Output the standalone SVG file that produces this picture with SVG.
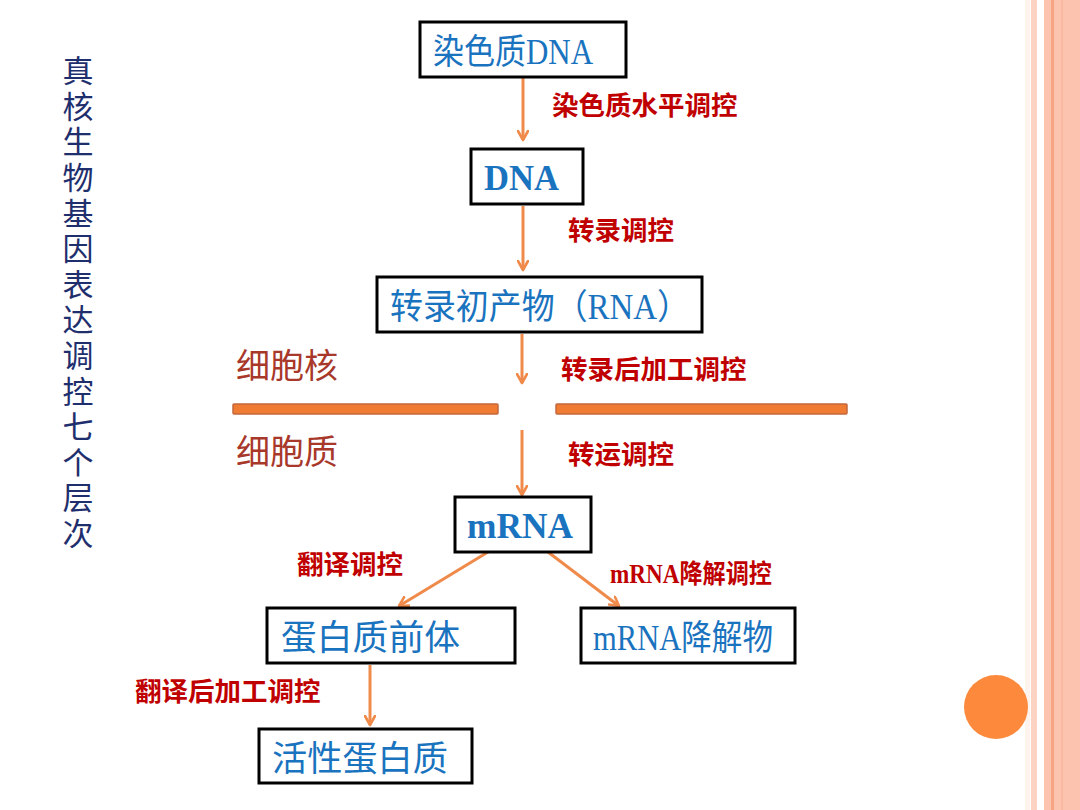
<svg xmlns="http://www.w3.org/2000/svg" width="1080" height="810" viewBox="0 0 1080 810">
<defs>
<marker id="ah" viewBox="0 0 12 12" refX="10" refY="6" markerWidth="12" markerHeight="12" markerUnits="userSpaceOnUse" orient="auto">
<path d="M1,1 L10,6 L1,11" fill="none" stroke="#f08a4b" stroke-width="2.6" stroke-linecap="round" stroke-linejoin="round"/>
</marker>
<style>
.box{fill:#ffffff;stroke:#000000;stroke-width:3}
.bt{font-family:"Liberation Serif","Noto Sans CJK SC",serif;font-size:35px;fill:#1a73be}
.bb{font-family:"Liberation Serif","Noto Sans CJK SC",serif;font-size:35px;font-weight:bold;fill:#1a73be}
.lab{font-family:"Liberation Serif","Noto Sans CJK SC",sans-serif;font-size:26.5px;font-weight:bold;fill:#c00000}
.reg{font-family:"Noto Sans CJK SC",sans-serif;font-size:34px;fill:#a8382a}
.ttl{font-family:"Noto Sans CJK SC",sans-serif;font-size:31px;fill:#1f2f6e;writing-mode:vertical-rl;letter-spacing:4.6px}
.con{stroke:#f08a4b;stroke-width:3;fill:none;marker-end:url(#ah)}
.bar{fill:#f07c33;stroke:#c4683e;stroke-width:1.5}
</style>
</defs>
<rect width="1080" height="810" fill="#ffffff"/>
<g id="border">
<rect x="1025" y="0" width="5" height="810" fill="#fff3ee"/>
<rect x="1031" y="0" width="6" height="810" fill="#fcd3c2"/>
<rect x="1044" y="0" width="36" height="810" fill="#fcc4ae"/>
<rect x="1051" y="0" width="3" height="810" fill="#f5a582"/>
<rect x="1061" y="0" width="2" height="810" fill="#f9b9a0"/>
</g>
<circle id="dot" cx="996" cy="707" r="32" fill="#fd8a3c"/>
<g id="title">
<text class="ttl" x="78" y="55">真核生物基因表达调控七个层次</text>
</g>
<g id="region-labels">
<text class="reg" x="236" y="378">细胞核</text>
<text class="reg" x="236" y="464">细胞质</text>
<rect class="bar" x="233" y="404" width="265" height="10" rx="1"/>
<rect class="bar" x="556" y="404" width="291" height="10" rx="1"/>
</g>
<g id="connectors">
<line class="con" x1="523" y1="78" x2="523" y2="140"/>
<line class="con" x1="523" y1="206" x2="523" y2="270"/>
<line class="con" x1="522" y1="334" x2="522" y2="383"/>
<line class="con" x1="522" y1="430" x2="522" y2="495"/>
<line class="con" x1="488" y1="552" x2="399" y2="606"/>
<line class="con" x1="548" y1="552" x2="619" y2="606"/>
<line class="con" x1="370" y1="665" x2="370" y2="725"/>
</g>
<g id="edge-labels">
<text class="lab" x="552" y="115">染色质水平调控</text>
<text class="lab" x="568" y="240">转录调控</text>
<text class="lab" x="561" y="379">转录后加工调控</text>
<text class="lab" x="568" y="464">转运调控</text>
<text class="lab" x="297" y="574">翻译调控</text>
<text class="lab" x="610" y="583" textLength="162" lengthAdjust="spacingAndGlyphs">mRNA降解调控</text>
<text class="lab" x="135" y="701">翻译后加工调控</text>
</g>
<g id="node-chromatin">
<rect class="box" x="420" y="22" width="206" height="55"/>
<text class="bt" x="433" y="64" textLength="160" lengthAdjust="spacingAndGlyphs">染色质DNA</text>
</g>
<g id="node-dna">
<rect class="box" x="471" y="149" width="112" height="55"/>
<text class="bb" x="484" y="190" textLength="75" lengthAdjust="spacingAndGlyphs">DNA</text>
</g>
<g id="node-primary">
<rect class="box" x="377" y="277" width="325" height="55"/>
<text class="bt" x="390" y="319" textLength="300" lengthAdjust="spacingAndGlyphs">转录初产物（RNA）</text>
</g>
<g id="node-mrna">
<rect class="box" x="455" y="497" width="136" height="55"/>
<text class="bb" x="467" y="538" textLength="106" lengthAdjust="spacingAndGlyphs">mRNA</text>
</g>
<g id="node-precursor">
<rect class="box" x="267" y="608" width="248" height="55"/>
<text class="bt" x="281" y="650" textLength="179" lengthAdjust="spacingAndGlyphs">蛋白质前体</text>
</g>
<g id="node-degraded">
<rect class="box" x="581" y="608" width="214" height="55"/>
<text class="bt" x="593" y="650" textLength="180" lengthAdjust="spacingAndGlyphs">mRNA降解物</text>
</g>
<g id="node-active">
<rect class="box" x="259" y="729" width="213" height="54"/>
<text class="bt" x="272" y="771" textLength="176" lengthAdjust="spacingAndGlyphs">活性蛋白质</text>
</g>
</svg>
